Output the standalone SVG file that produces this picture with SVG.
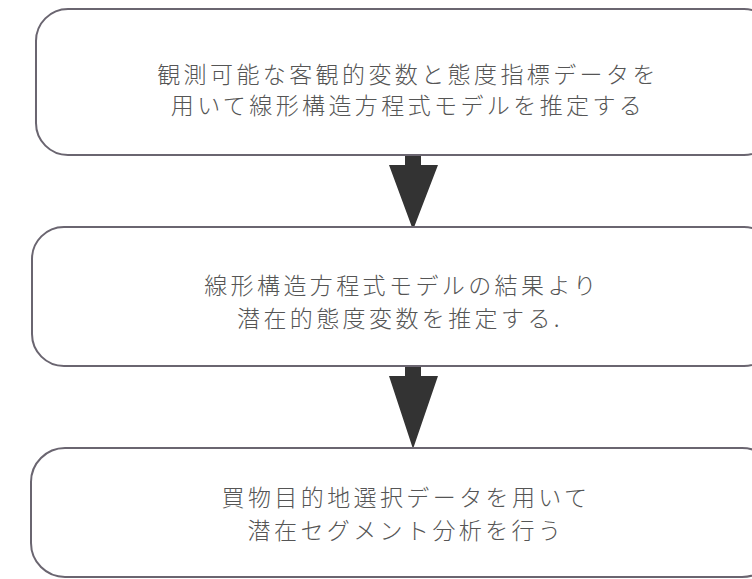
<svg xmlns="http://www.w3.org/2000/svg" width="752" height="579" viewBox="0 0 752 579">
<style>
.box{fill:#fff;stroke:#6a6570;stroke-width:2}
.t{font-family:"Noto Sans CJK JP","Noto Sans CJK SC",sans-serif;font-size:23px;font-weight:300;fill:#555;text-anchor:middle;letter-spacing:3.4px}
.arr{fill:#333}
</style>
<rect width="752" height="579" fill="#fff"/>
<g id="connectors">
<path class="arr" d="M405 155 H421 V165 H438 L413 230 L389 165 H405 Z"/>
<path class="arr" d="M405 366 H421 V376 H438 L413 449 L389 376 H405 Z"/>
</g>
<g id="node1">
<rect class="box" x="36" y="9" width="740" height="146" rx="32"/>
<text class="t" x="408" y="83">観測可能な客観的変数と態度指標データを</text>
<text class="t" x="408" y="114">用いて線形構造方程式モデルを推定する</text>
</g>
<g id="node2">
<rect class="box" x="32" y="227" width="744" height="139" rx="32"/>
<text class="t" x="402" y="294">線形構造方程式モデルの結果より</text>
<text class="t" x="400" y="327">潜在的態度変数を推定する.</text>
</g>
<g id="node3">
<rect class="box" x="31" y="448" width="745" height="129" rx="34"/>
<text class="t" x="406" y="506">買物目的地選択データを用いて</text>
<text class="t" x="406" y="539">潜在セグメント分析を行う</text>
</g>
</svg>
